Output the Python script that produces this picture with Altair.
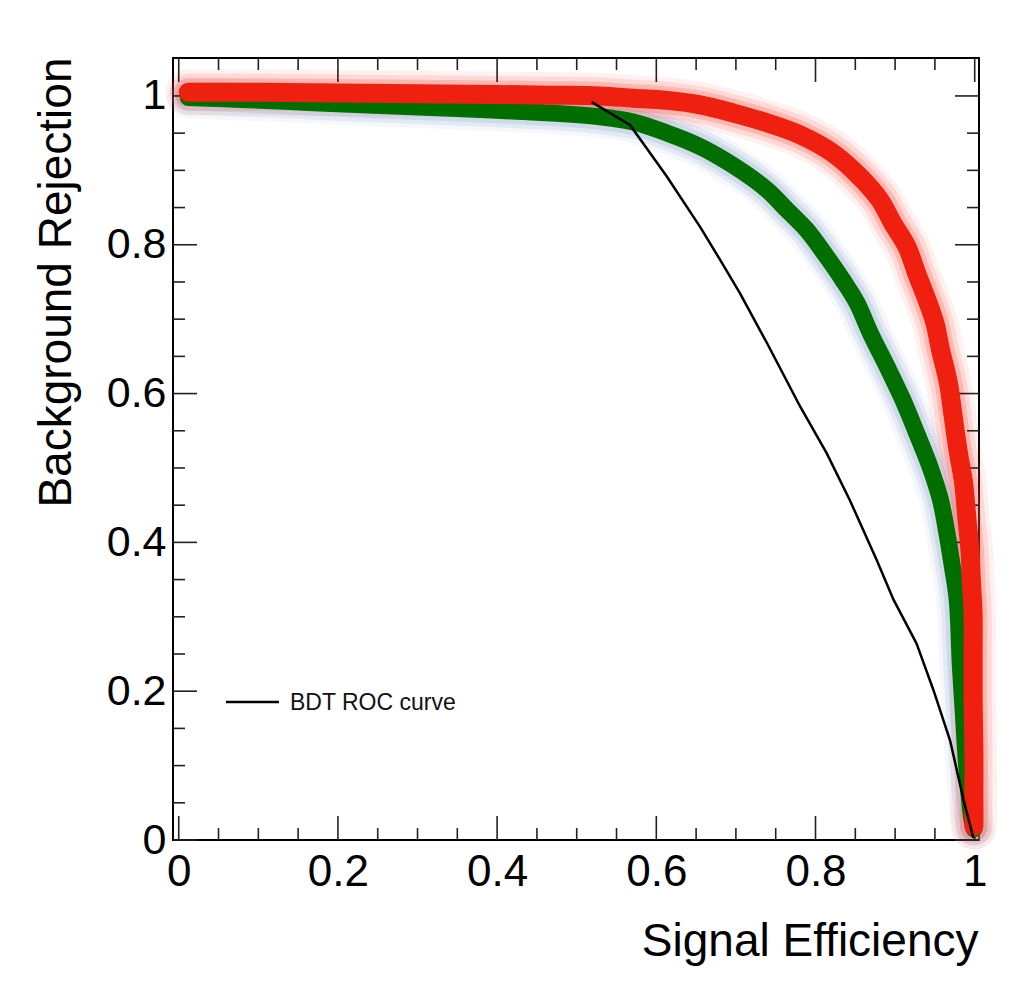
import altair as alt
import pandas as pd

# ---- data ----
red_x = [0.012, 0.10, 0.20, 0.30, 0.40, 0.47, 0.529, 0.571, 0.613, 0.655, 0.697, 0.739,
         0.780, 0.822, 0.856, 0.881, 0.897, 0.915, 0.927, 0.940, 0.950, 0.957, 0.967,
         0.973, 0.979, 0.986, 0.990, 0.994, 0.996, 0.998, 0.998, 0.998, 0.999, 0.999, 0.999]
red_y = [1.005, 1.005, 1.004, 1.003, 1.002, 1.001, 1.000, 0.997, 0.994, 0.988, 0.977, 0.964,
         0.948, 0.923, 0.891, 0.860, 0.829, 0.797, 0.762, 0.726, 0.695, 0.659, 0.614,
         0.569, 0.524, 0.480, 0.434, 0.390, 0.345, 0.305, 0.250, 0.190, 0.120, 0.060, 0.018]

green_x = [0.012, 0.086, 0.17, 0.253, 0.35, 0.45, 0.529, 0.571, 0.614, 0.655, 0.696, 0.739,
           0.764, 0.789, 0.814, 0.834, 0.852, 0.869, 0.890, 0.910, 0.927, 0.944, 0.957,
           0.965, 0.972, 0.978, 0.982, 0.986, 0.990, 0.996, 0.999]
green_y = [0.998, 0.995, 0.991, 0.987, 0.983, 0.978, 0.972, 0.965, 0.950, 0.932, 0.907, 0.874,
           0.847, 0.820, 0.784, 0.753, 0.722, 0.681, 0.636, 0.591, 0.547, 0.501, 0.457,
           0.413, 0.367, 0.323, 0.233, 0.165, 0.098, 0.031, 0.015]

bdt_x = [0.520, 0.567, 0.613, 0.655, 0.680, 0.705, 0.739, 0.781, 0.814, 0.843, 0.877,
         0.898, 0.927, 0.948, 0.969, 0.986, 0.998]
bdt_y = [0.991, 0.961, 0.892, 0.824, 0.780, 0.735, 0.668, 0.582, 0.520, 0.457, 0.376,
         0.323, 0.264, 0.202, 0.134, 0.054, 0.004]

x_labels = [0, 0.2, 0.4, 0.6, 0.8, 1]
y_labels = [0, 0.2, 0.4, 0.6, 0.8, 1]
x_major_ticks = [0, 0.2, 0.4, 0.6, 0.8, 1]
x_minor_ticks = [0.05, 0.1, 0.15, 0.25, 0.3, 0.35, 0.45, 0.5, 0.55,
                 0.65, 0.7, 0.75, 0.85, 0.9, 0.95]
y_major_ticks = [0, 0.2, 0.4, 0.6, 0.8, 1]
y_minor_ticks = [0.05, 0.1, 0.15, 0.25, 0.3, 0.35, 0.45, 0.5, 0.55,
                 0.65, 0.7, 0.75, 0.85, 0.9, 0.95]
legend_label = "BDT ROC curve"

# ---- layout ----
W, H = 806, 782
FONT = "Liberation Sans"
xs = alt.Scale(domain=[-0.0072, 1.0054], nice=False, zero=False)
ys = alt.Scale(domain=[0, 1.051], nice=False, zero=False)


def curve_df(xv, yv):
    return pd.DataFrame({"x": xv, "y": yv, "i": list(range(len(xv)))})


red_df = curve_df(red_x, red_y)
green_df = curve_df(green_x, green_y)
bdt_df = curve_df(bdt_x, bdt_y)

x_axis = alt.Axis(values=x_labels, format="~g", ticks=False, tickSize=0, domain=False,
                  grid=False, labelFont=FONT, labelFontSize=44, labelColor="black",
                  labelPadding=45, labelBaseline="alphabetic", labelFlush=False,
                  labelOverlap=False, title="Signal Efficiency", titleFont=FONT,
                  titleFontSize=46, titleFontWeight="normal", titleColor="black",
                  titleX=805, titleY=115, titleAlign="right", titleBaseline="alphabetic")
y_axis = alt.Axis(values=y_labels, format="~g", ticks=False, tickSize=0, domain=False,
                  grid=False, labelFont=FONT, labelFontSize=43, labelColor="black",
                  labelPadding=7, labelBaseline="middle", labelFlush=False,
                  labelOverlap=False, title="Background Rejection", titleFont=FONT,
                  titleFontSize=46, titleFontWeight="normal", titleColor="black",
                  titleAngle=270, titleX=-103, titleY=-1, titleAlign="right",
                  titleBaseline="alphabetic")


def X(field):
    return alt.X(field, scale=xs, axis=x_axis)


def Y(field):
    return alt.Y(field, scale=ys, axis=y_axis)


def line(df, color, width, opacity=1.0, interp="catmull-rom"):
    return alt.Chart(df).mark_line(
        color=color, strokeWidth=width, opacity=opacity,
        strokeCap="round", strokeJoin="round", interpolate=interp
    ).encode(x=X("x:Q"), y=Y("y:Q"), order=alt.Order("i:Q"))


layers = []

# glows
GREEN = "#006f00"
GREEN_GLOW = "#7f9fc8"
RED = "#ef2010"
RED_GLOW = "#ff4a3a"
layers.append(line(green_df, GREEN_GLOW, 42, 0.08))
layers.append(line(green_df, GREEN_GLOW, 34, 0.14))
layers.append(line(green_df, GREEN_GLOW, 26, 0.22))
layers.append(line(red_df, RED_GLOW, 46, 0.08))
layers.append(line(red_df, RED_GLOW, 37, 0.14))
layers.append(line(red_df, RED_GLOW, 28, 0.24))

# inside ticks on all four sides
TICK_COLOR = "#222222"
for vals, length in ((x_major_ticks, 24), (x_minor_ticks, 12)):
    tdf = pd.DataFrame({"v": vals})
    layers.append(alt.Chart(tdf).mark_rule(color=TICK_COLOR, strokeWidth=1.6).encode(
        x=X("v:Q"), y=alt.value(H), y2=alt.value(H - length)))
    layers.append(alt.Chart(tdf).mark_rule(color=TICK_COLOR, strokeWidth=1.6).encode(
        x=X("v:Q"), y=alt.value(0), y2=alt.value(length)))
for vals, length in ((y_major_ticks, 24), (y_minor_ticks, 12)):
    tdf = pd.DataFrame({"v": vals})
    layers.append(alt.Chart(tdf).mark_rule(color=TICK_COLOR, strokeWidth=1.6).encode(
        y=Y("v:Q"), x=alt.value(0), x2=alt.value(length)))
    layers.append(alt.Chart(tdf).mark_rule(color=TICK_COLOR, strokeWidth=1.6).encode(
        y=Y("v:Q"), x=alt.value(W), x2=alt.value(W - length)))

# cores
layers.append(line(green_df, GREEN, 17))
layers.append(line(red_df, RED, 19))
layers.append(line(bdt_df, "black", 2.5, interp="linear"))

# legend
leg = pd.DataFrame({"label": [legend_label]})
layers.append(alt.Chart(leg).mark_rule(color="black", strokeWidth=2.5).encode(
    x=alt.value(53), x2=alt.value(106), y=alt.value(644)))
layers.append(alt.Chart(leg).mark_text(
    align="left", baseline="alphabetic", font=FONT, fontSize=23, color="#111111"
).encode(text="label:N", x=alt.value(117), y=alt.value(652)))

chart = alt.layer(*layers).properties(
    width=W, height=H,
    autosize=alt.AutoSizeParams(type="none"),
    padding={"left": 165, "top": 50, "right": 20, "bottom": 130},
    background="white",
).configure_view(stroke="black", strokeWidth=2)

chart.save("out.html", embed_options={"renderer": "svg", "actions": False})
